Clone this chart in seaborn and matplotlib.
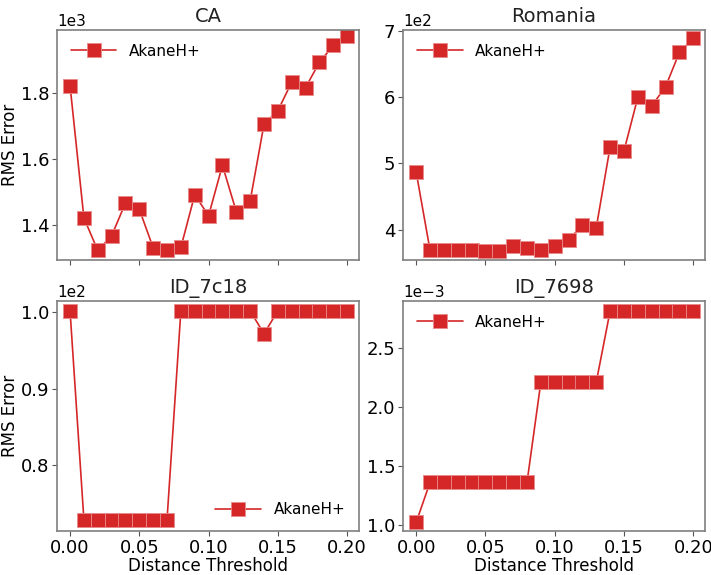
import matplotlib
matplotlib.use("Agg")
import matplotlib.pyplot as plt
import seaborn as sns
import pandas as pd

thresholds = [0.00, 0.01, 0.02, 0.03, 0.04, 0.05, 0.06, 0.07, 0.08, 0.09, 0.10,
              0.11, 0.12, 0.13, 0.14, 0.15, 0.16, 0.17, 0.18, 0.19, 0.20]

ca_rms = [1822, 1422, 1324, 1368, 1467, 1448, 1332, 1324, 1333, 1492, 1429,
          1581, 1441, 1473, 1705, 1746, 1832, 1816, 1892, 1943, 1971]
romania_rms = [487, 369, 369, 369, 369, 368, 367, 375, 372, 369, 375,
               384, 407, 403, 525, 519, 600, 587, 616, 668, 689]
id7c18_rms = [100.2, 72.8, 72.8, 72.8, 72.8, 72.8, 72.8, 72.8, 100.2, 100.2, 100.2,
              100.2, 100.2, 100.2, 97.2, 100.2, 100.2, 100.2, 100.2, 100.2, 100.2]
id7698_rms = [0.001023, 0.001362, 0.001362, 0.001362, 0.001362, 0.001362, 0.001362,
              0.001362, 0.001362, 0.002212, 0.002212, 0.002212, 0.002212, 0.002212,
              0.002815, 0.002815, 0.002815, 0.002815, 0.002815, 0.002815, 0.002815]

titles = ["CA", "Romania", "ID_7c18", "ID_7698"]
series = [ca_rms, romania_rms, id7c18_rms, id7698_rms]
legend_locs = ["upper left", "upper left", "lower right", "upper left"]
method = "AkaneH+"

sns.set_style("white")
plt.rcParams['font.family'] = ['DejaVu Sans']
plt.rcParams['text.color'] = 'black'
plt.rcParams['axes.labelcolor'] = 'black'
plt.rcParams['xtick.color'] = 'black'
plt.rcParams['ytick.color'] = 'black'
plt.rcParams['axes.edgecolor'] = '#7f7f7f'

fig, axes = plt.subplots(2, 2, figsize=(7.11, 5.75), dpi=100, sharex=True)
color = "#d62728"

for ax, title, vals, loc in zip(axes.flat, titles, series, legend_locs):
    df = pd.DataFrame({"Distance Threshold": thresholds, "RMS Error": vals})
    sns.lineplot(data=df, x="Distance Threshold", y="RMS Error", ax=ax,
                 color=color, marker="s", markersize=10, linewidth=1.2,
                 markeredgecolor="#e88a8a", markeredgewidth=0.6, label=method)
    ax.set_title(title, fontsize=14, color='#222222')
    ax.ticklabel_format(axis='y', style='sci', scilimits=(0, 0))
    ax.yaxis.get_offset_text().set_fontsize(11)
    ax.tick_params(axis='both', labelsize=13, length=3.5, width=0.8,
                   bottom=True, left=True, color='#555555', pad=2)
    ax.legend(loc=loc, frameon=False, prop={'size': 11}, handlelength=3)
    for s in ax.spines.values():
        s.set_linewidth(1.2)

ax_ca, ax_ro, ax_7c, ax_76 = axes.flat
ax_ca.set_yticks([1400, 1600, 1800])
ax_ro.set_yticks([400, 500, 600, 700])
ax_7c.set_yticks([80, 90, 100])
ax_76.set_yticks([0.001, 0.0015, 0.002, 0.0025])
ax_ca.set_ylim(1295, 1990)
ax_ro.set_ylim(354, 702)
ax_7c.set_ylim(71.3, 101.5)
ax_76.set_ylim(0.00095, 0.0029)

for ax in axes.flat:
    ax.set_xticks([0.0, 0.05, 0.10, 0.15, 0.20])
    ax.set_xlim(-0.0095, 0.2085)

ax_ro.set_ylabel("")
ax_76.set_ylabel("")
ax_ca.set_xlabel("")
ax_ro.set_xlabel("")
for ax in [ax_ca, ax_7c]:
    ax.set_ylabel("RMS Error", fontsize=12)
    ax.yaxis.set_label_coords(-0.125, 0.5)
for ax in [ax_7c, ax_76]:
    ax.set_xlabel("Distance Threshold", fontsize=12, labelpad=0)
    ax.set_xticklabels(["0.00", "0.05", "0.10", "0.15", "0.20"])

fig.subplots_adjust(left=0.080, right=0.9916, top=0.948, bottom=0.0765,
                    wspace=0.146, hspace=0.178)
fig.savefig("out.png", dpi=100)
